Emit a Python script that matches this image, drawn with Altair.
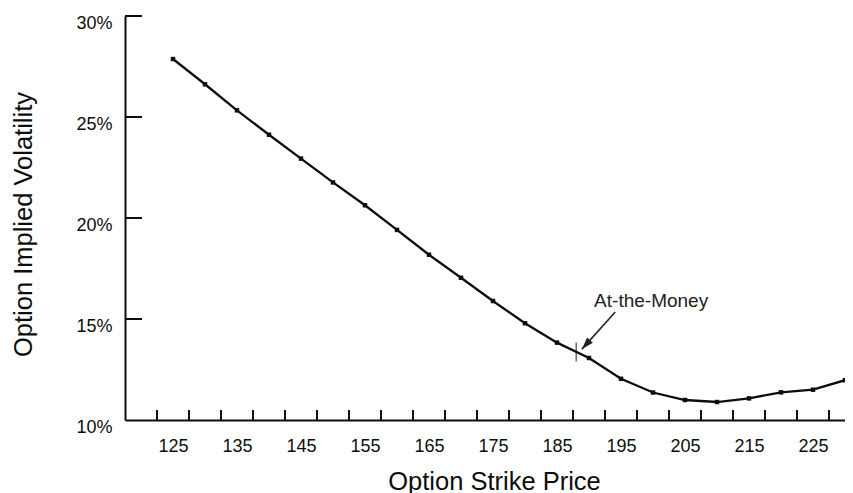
import altair as alt
import pandas as pd

# ---- data ----
strikes = [125, 130, 135, 140, 145, 150, 155, 160, 165, 170, 175,
           180, 185, 190, 195, 200, 205, 210, 215, 220, 225, 230]
implied_vol = [0.2787, 0.2662, 0.2533, 0.2412, 0.2294, 0.2176, 0.2063, 0.1941,
               0.1818, 0.1704, 0.1589, 0.1479, 0.1383, 0.1307, 0.1204, 0.1136,
               0.1099, 0.1089, 0.1107, 0.1137, 0.1150, 0.1197]

x_label_values = [125, 135, 145, 155, 165, 175, 185, 195, 205, 215, 225]
x_tick_values = [122.5, 127.5, 132.5, 137.5, 142.5, 147.5, 152.5, 157.5, 162.5,
                 167.5, 172.5, 177.5, 182.5, 187.5, 192.5, 197.5, 202.5, 207.5,
                 212.5, 217.5, 222.5, 227.5]
y_tick_values = [0.10, 0.15, 0.20, 0.25, 0.30]
y_inner_ticks = [0.15, 0.20, 0.25, 0.30]

atm_strike = [188.0]
atm_vol = [0.1337]
ann_text = ["At-the-Money"]
ann_text_x = [190.8]
ann_text_y = [0.1561]
arrow_x = [194.1]
arrow_y = [0.1535]
arrow_x2 = [188.9]
arrow_y2 = [0.1351]

X_DOMAIN = [117.5, 230.0]
Y_DOMAIN = [0.10, 0.30]
FONT = "Liberation Sans"
INK = "#0d0d0d"

df = pd.DataFrame({"strike": strikes, "vol": implied_vol})
xticks_df = pd.DataFrame({"t": x_tick_values})
yticks_df = pd.DataFrame({"v": y_inner_ticks})
atm_df = pd.DataFrame({"x": atm_strike, "y": atm_vol})
ann_df = pd.DataFrame({"x": ann_text_x, "y": ann_text_y, "label": ann_text})
arrow_df = pd.DataFrame({"x": arrow_x, "y": arrow_y, "x2": arrow_x2, "y2": arrow_y2})

xs = alt.Scale(domain=X_DOMAIN, nice=False, zero=False)
ys = alt.Scale(domain=Y_DOMAIN, nice=False, zero=False)

x_axis = alt.Axis(
    values=x_label_values, ticks=False, tickSize=0, grid=False,
    domain=True, domainColor=INK, domainWidth=2,
    labelFont=FONT, labelFontSize=18, labelColor=INK, labelPadding=17,
    title="Option Strike Price", titleFont=FONT, titleFontSize=25.5,
    titleFontWeight="normal", titleColor=INK, titlePadding=14,
    titleX=369, titleAlign="center",
)
y_axis = alt.Axis(
    values=y_tick_values, format=".0%", ticks=False, tickSize=0, grid=False,
    domain=True, domainColor=INK, domainWidth=2,
    labelFont=FONT, labelFontSize=18, labelColor=INK, labelPadding=13,
    labelOffset=7,
    title="Option Implied Volatility", titleFont=FONT, titleFontSize=25.5,
    titleFontWeight="normal", titleColor=INK, titlePadding=39,
    titleY=208, titleAlign="center",
)

line = alt.Chart(df).mark_line(color=INK, strokeWidth=2.3).encode(
    x=alt.X("strike:Q", scale=xs, axis=x_axis),
    y=alt.Y("vol:Q", scale=ys, axis=y_axis),
)
pts = alt.Chart(df).mark_square(color=INK, size=20, opacity=1).encode(
    x=alt.X("strike:Q", scale=xs),
    y=alt.Y("vol:Q", scale=ys),
)

x_ticks = alt.Chart(xticks_df).mark_rule(color=INK, strokeWidth=2, y2Offset=-10).encode(
    x=alt.X("t:Q", scale=xs),
    y=alt.datum(Y_DOMAIN[0]),
    y2=alt.datum(Y_DOMAIN[0]),
)
y_ticks = alt.Chart(yticks_df).mark_rule(color=INK, strokeWidth=2, x2Offset=17).encode(
    y=alt.Y("v:Q", scale=ys),
    x=alt.datum(X_DOMAIN[0]),
    x2=alt.datum(X_DOMAIN[0]),
)

atm_mark = alt.Chart(atm_df).mark_tick(
    color=INK, orient="vertical", size=19, thickness=1.3
).encode(
    x=alt.X("x:Q", scale=xs),
    y=alt.Y("y:Q", scale=ys),
)

arrow_line = alt.Chart(arrow_df).mark_rule(color="#222222", strokeWidth=1.6).encode(
    x=alt.X("x:Q", scale=xs),
    y=alt.Y("y:Q", scale=ys),
    x2="x2:Q",
    y2="y2:Q",
)
arrow_head = alt.Chart(arrow_df).mark_point(
    shape="M0,0L-0.65,2L0.65,2Z", filled=True, color="#222222",
    size=144, angle=222, opacity=1,
).encode(
    x=alt.X("x2:Q", scale=xs),
    y=alt.Y("y2:Q", scale=ys),
)

ann = alt.Chart(ann_df).mark_text(
    align="left", baseline="alphabetic", font=FONT, fontSize=19, color="#222222"
).encode(
    x=alt.X("x:Q", scale=xs),
    y=alt.Y("y:Q", scale=ys),
    text="label:N",
)

chart = alt.layer(
    line, pts, x_ticks, y_ticks, atm_mark, arrow_line, arrow_head, ann
).properties(
    width=720, height=404,
    background="white",
    autosize=alt.AutoSizeParams(type="none"),
    padding={"left": 117, "top": 8, "right": 0, "bottom": 76},
).configure_view(stroke=None)

chart.save("out.html", embed_options={"renderer": "svg", "actions": False})
